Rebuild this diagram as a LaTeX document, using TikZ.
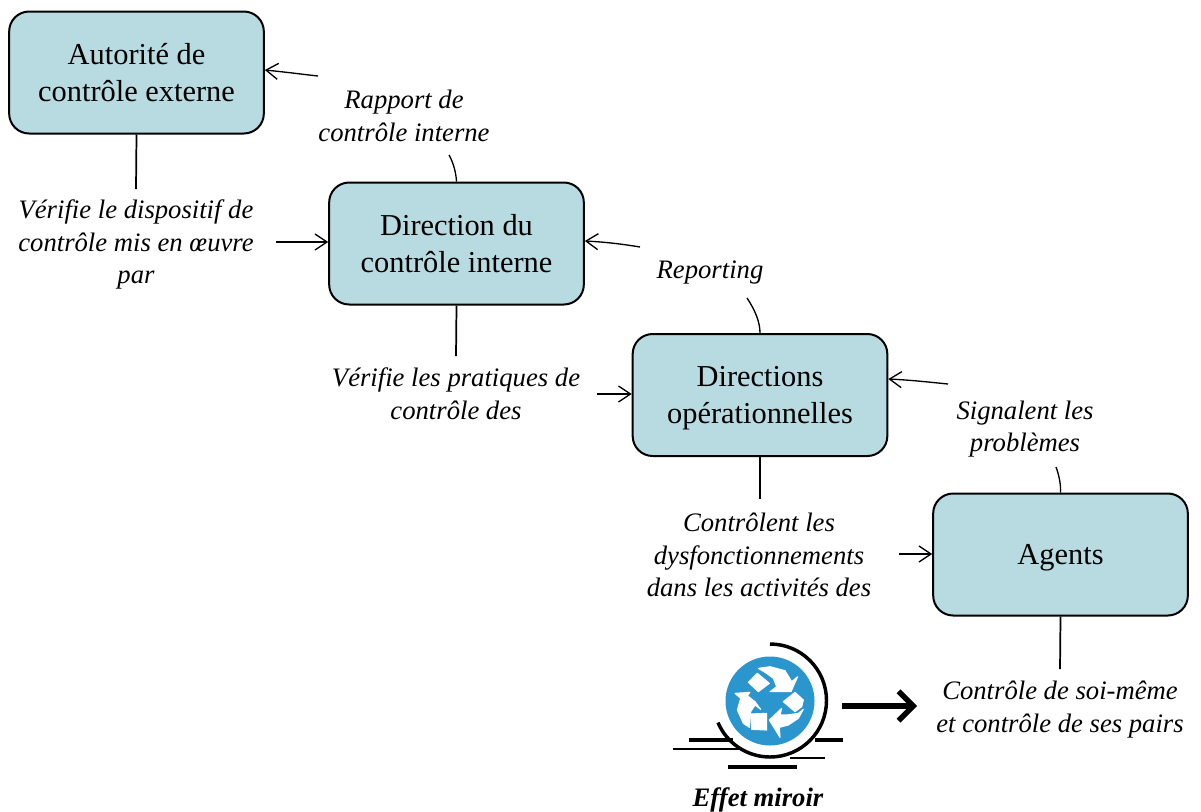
\documentclass[tikz,border=0pt]{standalone}
\usepackage{fontspec}
\setmainfont{Liberation Serif}
\usetikzlibrary{arrows.meta}
\definecolor{boxfill}{HTML}{B7DBE0}
\definecolor{recy}{HTML}{2B95CE}
\newcommand{\topgap}[1]{\rule{0pt}{#1}}
\tikzset{
  x=0.75pt,y=-0.75pt,
  boxn/.style={draw=black,line width=1.5pt,fill=boxfill,rounded corners=15pt,minimum width=191pt,minimum height=91.5pt,align=center,inner sep=0pt,font=\fontsize{22.8}{27.3}\selectfont},
  lab/.style={align=center,inner sep=0pt,font=\fontsize{20}{24.5}\selectfont\itshape},
  conn/.style={line width=1pt},
  arr/.style={line width=1pt,-{Straight Barb[length=9pt,width=12pt,line width=1pt]}},
  stem/.style={line width=1.3pt},
  recyw/.style={fill=white,draw=white,line width=0.8pt,line join=round}
}
\begin{document}
\begin{tikzpicture}
\useasboundingbox (0,0) rectangle (1201,811);
\node[boxn] (A) at (136.5,72.5) {Autorité de\\contrôle externe};
\node[boxn] (B) at (456.5,243.5) {Direction du\\contrôle interne};
\node[boxn] (C) at (760,395) {\topgap{20pt}Directions\\opérationnelles};
\node[boxn] (D) at (1060.5,554.5) {\topgap{20pt}Agents};
\node[lab] (t1) at (136,244.5) {Vérifie le dispositif de\\contrôle mis en œuvre\\par};
\node[lab] (t2) at (404,116) {Rapport de\\contrôle interne};
\node[lab] (t3) at (456,394) {Vérifie les pratiques de\\contrôle des};
\node[lab] (t4) at (710,273) {Reporting};
\node[lab] (t5) at (1025,429) {Signalent les\\problèmes};
\node[lab] (t6) at (759,555) {Contrôlent les\\dysfonctionnements\\dans les activités des};
\node[lab] (t7) at (1060,709.5) {Contrôle de soi-même\\et contrôle de ses pairs};
\node[lab,font=\fontsize{20}{24.5}\selectfont\itshape\bfseries] (t8) at (758,800) {Effet miroir};
\coordinate (a1) at (136,189);
\coordinate (a2) at (276,242);
\coordinate (a3) at (318,76);
\coordinate (a5) at (449,155);
\coordinate (b1) at (456,356);
\coordinate (b2) at (597,394);
\coordinate (b3) at (640,247);
\coordinate (b5) at (747,298);
\coordinate (c1) at (760,499);
\coordinate (c2) at (899,554);
\coordinate (c3) at (948,384);
\coordinate (c5) at (1056,467);
\coordinate (d1) at (1060,669);
\draw[stem] (A.south) -- (a1);
\draw[arr] (a2) -- (a2 -| B.west);
\draw[arr] (a3) .. controls (300,74) and (285,72) .. (A.east |- 0,70);
\draw[conn] (B.north) .. controls (456,172) and (453,162) .. (a5);
\draw[stem] (B.south) -- (b1);
\draw[arr] (b2) -- (b2 -| C.west);
\draw[arr] (b3) .. controls (622,244) and (605,242) .. (B.east |- 0,241);
\draw[conn] (C.north) .. controls (760,322) and (755,310) .. (b5);
\draw[stem] (C.south) -- (c1);
\draw[arr] (c2) -- (c2 -| D.west);
\draw[arr] (c3) .. controls (928,382) and (910,380) .. (C.east |- 0,379);
\draw[conn] (D.north) .. controls (1061,485) and (1059,475) .. (c5);
\draw[stem] (D.south) -- (d1);
% icon
\coordinate (ic) at (770,701);
\draw[line width=2.5pt] (689,740) -- (733,740) (815,740) -- (843,740);
\draw[line width=1.5pt] (673,748.5) -- (741,748.5) (790,757.5) -- (825,757.5);
\draw[line width=3pt] (728,767) -- (797,767);
\fill[recy] (ic) circle[radius=44.5];
\draw[line width=2.6pt] (770,644) arc[start angle=-90,end angle=157,radius=56.5];
\begin{scope}[shift={(720,650)},x=0.25pt,y=-0.25pt]
\fill[recyw] (115,55) -- (150,50) -- (195,62) -- (215,95) -- (233,80) -- (213,125) -- (150,125) -- (170,110) -- (160,85) -- (140,70) -- cycle;
\filldraw[recyw] (112,70) -- (148,100) -- (115,125) -- (85,97) -- cycle;
\filldraw[recyw] (45,130) -- (90,127) -- (82,137) -- (105,155) -- (122,178) -- (105,165) -- (92,185) -- (90,205) -- (88,232) -- (70,220) -- (52,180) -- (62,145) -- cycle;
\filldraw[recyw] (92,192) -- (140,190) -- (140,240) -- (95,238) -- cycle;
\filldraw[recyw] (190,155) -- (225,127) -- (250,150) -- (245,170) -- (225,185) -- cycle;
\filldraw[recyw] (148,210) -- (185,175) -- (180,195) -- (200,195) -- (235,190) -- (250,178) -- (235,205) -- (205,225) -- (178,232) -- (180,262) -- cycle;
\end{scope}
\draw[line width=4pt,-{Straight Barb[length=11pt,width=22pt,line width=4pt]}] (842,706) -- (917,706);
\end{tikzpicture}
\end{document}
